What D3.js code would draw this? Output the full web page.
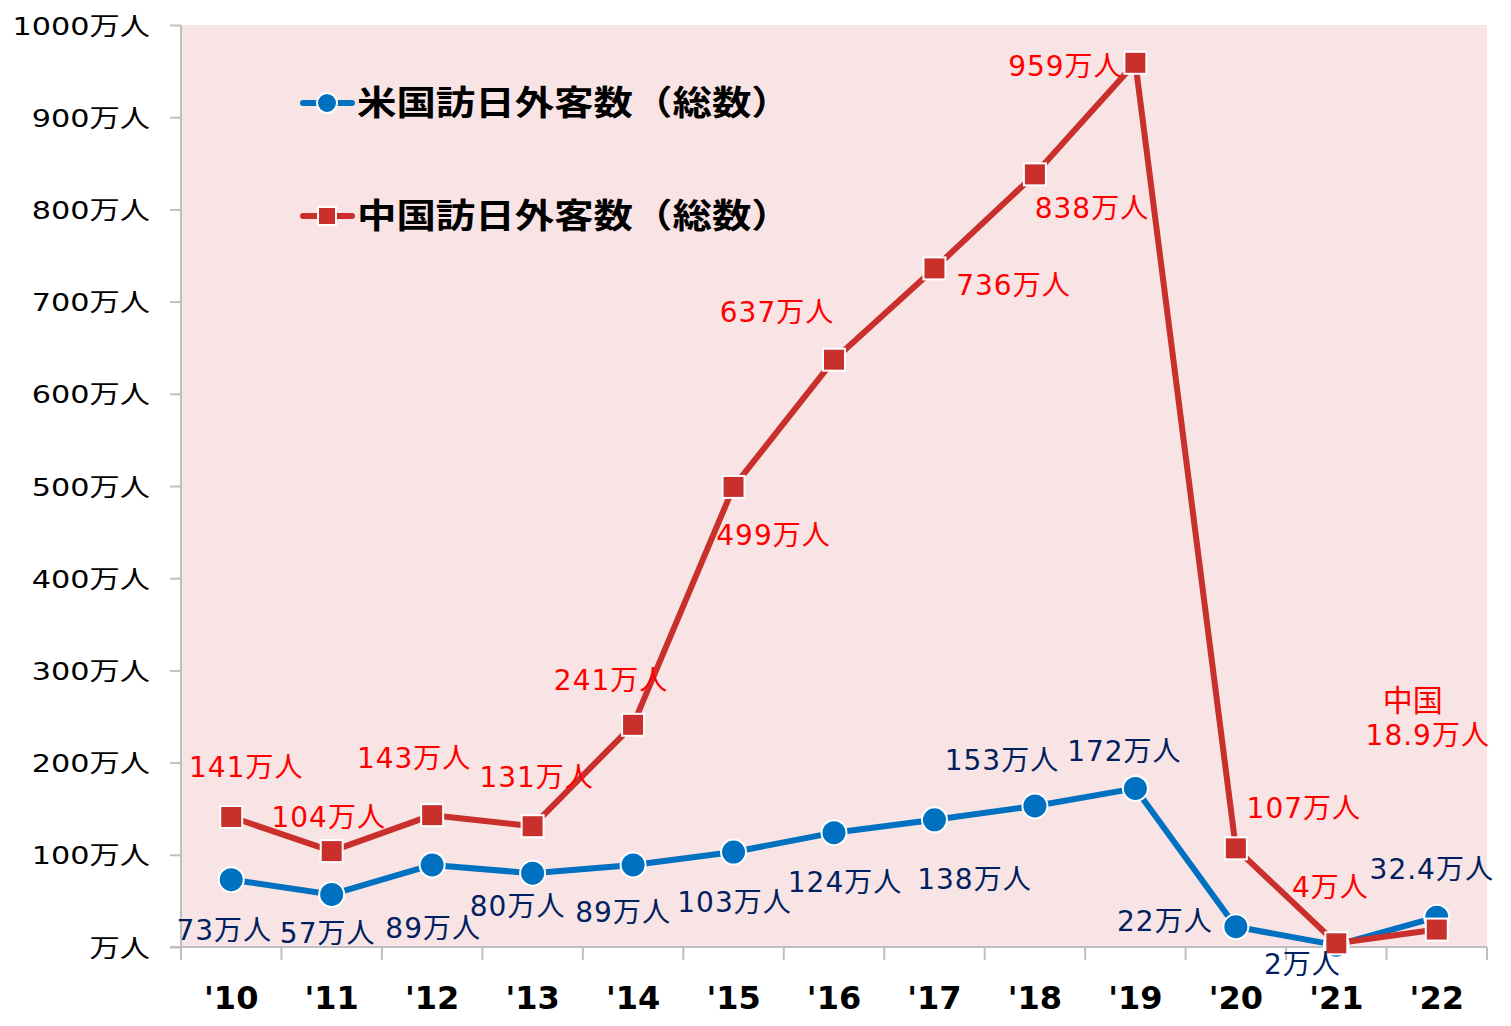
<!DOCTYPE html>
<html><head><meta charset="utf-8">
<script src="https://cdn.jsdelivr.net/npm/d3@7"></script>
<style>html,body{margin:0;padding:0;background:#fff;}</style>
</head><body>
<svg id="chart" width="1511" height="1026"></svg>
<script>
const categories = ["'10","'11","'12","'13","'14","'15","'16","'17","'18","'19","'20","'21","'22"];
const usValues = [73, 57, 89, 80, 89, 103, 124, 138, 153, 172, 22, 2, 32.4];
const cnValues = [141, 104, 143, 131, 241, 499, 637, 736, 838, 959, 107, 4, 18.9];
const usLabels = ["73万人","57万人","89万人","80万人","89万人","103万人","124万人","138万人","153万人","172万人","22万人","2万人","32.4万人"];
const cnLabels = ["141万人","104万人","143万人","131万人","241万人","499万人","637万人","736万人","838万人","959万人","107万人","4万人","18.9万人"];
const yTicks = [0,100,200,300,400,500,600,700,800,900,1000];
const seriesNames = ["米国訪日外客数（総数）","中国訪日外客数（総数）"];

// label offsets (layout only)
const usOffsets = [[-7,50],[-4,38],[1,63],[-15,33],[-10,47],[1,50],[11,49],[40,59],[-33,-46],[-11,-37],[-71,-6],[-34,19],[-5,-48]];
const cnOffsets = [[15,-50],[-3,-34],[-18,-57],[4,-49],[-22,-45],[40,48],[-57,-48],[79,17],[57,34],[-70,3],[68,-40],[-6,-56],[-9,-195]];

const LATIN = "'DejaVu Sans', 'Noto Sans CJK JP', sans-serif";
const CJK = "'Noto Sans CJK JP', 'DejaVu Sans', sans-serif";
const BLUE = "#0070C0", RED = "#C9302C", NAVY = "#002060", LRED = "#FF0000";

const svg = d3.select("#chart");
const pL = 181, pR = 1487, pT = 25, pB = 947;

const x = d3.scaleBand().domain(categories).range([pL, pR]).padding(0);
const y = d3.scaleLinear().domain([0, 1000]).range([pB, pT]);
const cx = c => x(c) + x.bandwidth() / 2;

// plot background
svg.append("rect").attr("x", pL).attr("y", pT).attr("width", pR - pL).attr("height", pB - pT).attr("fill", "#F8E4E4");

// y axis
const ysx = 1.21;
const yAxis = svg.append("g").attr("transform", `translate(${pL},0)`)
  .call(d3.axisLeft(y).tickValues(yTicks).tickSize(11).tickFormat(d => d === 0 ? "万人" : d + "万人"));
yAxis.select(".domain").attr("stroke", "#BFBFBF").attr("stroke-width", 2).attr("d", `M0,${pT}V${pB + 13}`);
yAxis.selectAll(".tick line").attr("stroke", "#BFBFBF").attr("stroke-width", 2);
yAxis.selectAll(".tick text")
  .attr("font-family", LATIN).attr("font-size", 25).attr("fill", "#000")
  .attr("text-anchor", "end").attr("dy", "0.36em")
  .attr("x", -31 / ysx).attr("transform", `scale(${ysx},1)`);

// x axis
const xAxis = svg.append("g").attr("transform", `translate(0,${pB})`)
  .call(d3.axisBottom(x).tickSize(0).tickPadding(0));
xAxis.select(".domain").attr("stroke", "#BFBFBF").attr("stroke-width", 2).attr("d", `M${pL - 11},0H${pR}`);
xAxis.selectAll(".tick text")
  .attr("font-family", LATIN).attr("font-size", 32).attr("font-weight", "bold").attr("fill", "#000")
  .attr("y", 50).attr("dy", "0.36em");
const bounds = categories.map(c => x(c)).concat([pR]);
svg.append("g").selectAll("line").data(bounds).join("line")
  .attr("x1", d => d).attr("x2", d => d).attr("y1", pB).attr("y2", pB + 13)
  .attr("stroke", "#BFBFBF").attr("stroke-width", 2);

// lines
const line = d3.line().x((d, i) => cx(categories[i])).y(d => y(d));
svg.append("path").datum(usValues).attr("d", line).attr("fill", "none").attr("stroke", BLUE).attr("stroke-width", 6).attr("stroke-linejoin", "round");
svg.append("path").datum(cnValues).attr("d", line).attr("fill", "none").attr("stroke", RED).attr("stroke-width", 6).attr("stroke-linejoin", "round");

// markers
svg.append("g").selectAll("circle").data(usValues).join("circle")
  .attr("cx", (d, i) => cx(categories[i])).attr("cy", d => y(d)).attr("r", 12.5)
  .attr("fill", BLUE).attr("stroke", "#fff").attr("stroke-width", 2);
const S = 22;
svg.append("g").selectAll("rect").data(cnValues).join("rect")
  .attr("x", (d, i) => cx(categories[i]) - S / 2).attr("y", d => y(d) - S / 2)
  .attr("width", S).attr("height", S)
  .attr("fill", RED).attr("stroke", "#fff").attr("stroke-width", 2);

// data labels
function labels(values, texts, offsets, color) {
  svg.append("g").selectAll("text").data(values).join("text")
    .attr("x", (d, i) => cx(categories[i]) + offsets[i][0])
    .attr("y", (d, i) => y(d) + offsets[i][1])
    .attr("text-anchor", "middle").attr("dy", "0.36em")
    .attr("font-family", LATIN).attr("font-size", 28).attr("letter-spacing", 1)
    .attr("fill", color).text((d, i) => texts[i]);
}
labels(usValues, usLabels, usOffsets, NAVY);
labels(cnValues, cnLabels, cnOffsets, LRED);
// "中国" annotation above the 2022 China label
svg.append("text")
  .attr("x", cx(categories[12]) + cnOffsets[12][0] - 15)
  .attr("y", y(cnValues[12]) + cnOffsets[12][1] - 34)
  .attr("text-anchor", "middle").attr("dy", "0.36em")
  .attr("font-family", CJK).attr("font-size", 30).attr("fill", LRED).text("中国");

// legend
const legendRows = [{name: seriesNames[0], color: BLUE, shape: "circle", yy: 103},
                    {name: seriesNames[1], color: RED, shape: "square", yy: 216}];
const lg = svg.append("g").selectAll("g").data(legendRows).join("g")
  .attr("transform", d => `translate(0,${d.yy})`);
lg.append("line").attr("x1", 303).attr("x2", 352).attr("y1", 0).attr("y2", 0)
  .attr("stroke", d => d.color).attr("stroke-width", 6).attr("stroke-linecap", "round");
lg.filter(d => d.shape === "circle").append("circle").attr("cx", 327).attr("cy", 0).attr("r", 10)
  .attr("fill", BLUE).attr("stroke", "#fff").attr("stroke-width", 2);
lg.filter(d => d.shape === "square").append("rect").attr("x", 318).attr("y", -9).attr("width", 18).attr("height", 18)
  .attr("fill", RED).attr("stroke", "#fff").attr("stroke-width", 2);
lg.append("text").attr("transform", "translate(357,0) scale(1.16,1)")
  .attr("dy", "0.36em").attr("font-family", CJK).attr("font-weight", "bold").attr("font-size", 34)
  .attr("fill", "#000").text(d => d.name);
</script>
</body></html>
